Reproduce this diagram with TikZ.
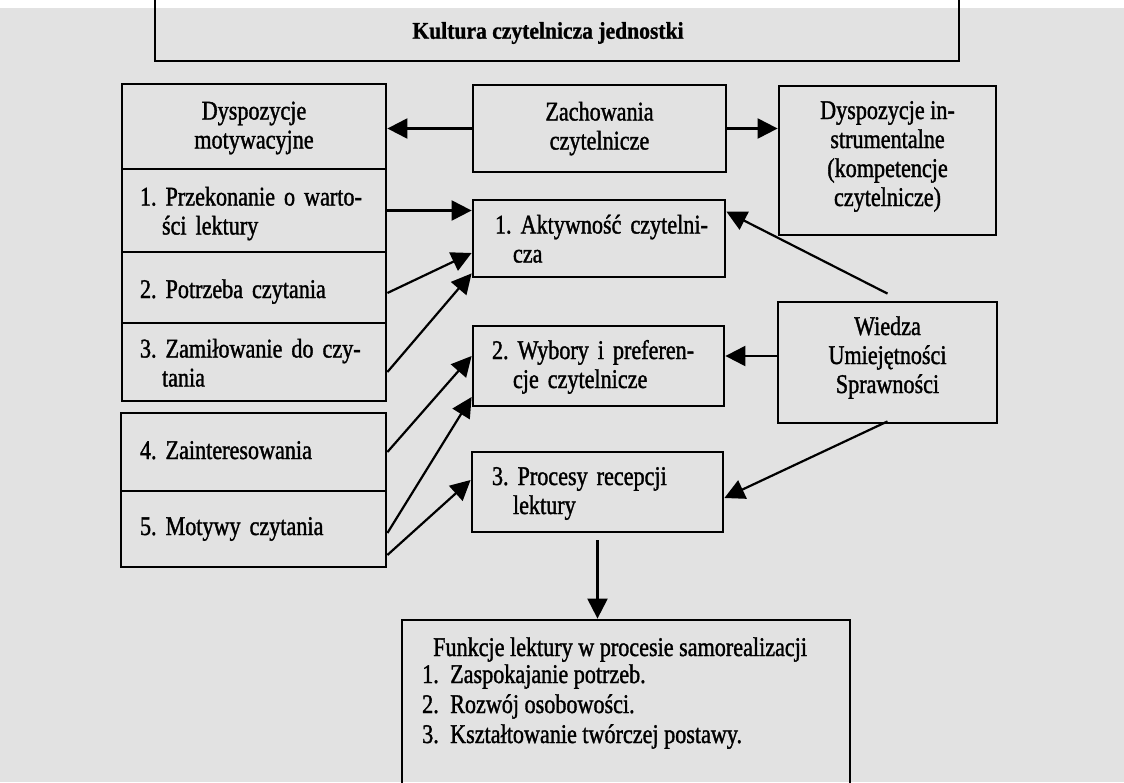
\documentclass[tikz,border=0pt]{standalone}
\usepackage{fontspec}
\setmainfont{Liberation Serif}[FakeBold=1.3, FakeStretch=0.82]
\newfontfamily\titlefont{Liberation Serif}[FakeBold=1.0, FakeStretch=0.9]
\usetikzlibrary{arrows.meta}
\definecolor{bg}{RGB}{226,226,226}
\newcommand\sTop[1]{\rule{0pt}{#1pt}}
\newcommand\sBot[1]{\rule[-#1pt]{0pt}{#1pt}}
\begin{document}
\frenchspacing
\begin{tikzpicture}[x=1pt,y=-1pt,
  font=\fontsize{27}{29}\selectfont,
  box/.style={draw, line width=2.8pt, inner sep=0pt, align=center},
  lbox/.style={draw, line width=2.8pt, inner ysep=0pt, align=left},
  arr/.style={-{Triangle[length=20pt,width=20pt]}, line width=2.2pt},
  txt/.style={inner sep=0pt, anchor=base west}]
\useasboundingbox (0,0) rectangle (1124,782);
\fill[bg] (0,0) rectangle (1124,782);
\fill[white] (0,0) rectangle (1124,8);
\clip (0,0) rectangle (1124,782);

% top box
\node[box, minimum width=804pt, minimum height=91pt] (kbox) at (557,15.5) {};
\node[inner sep=0pt, font=\titlefont\bfseries\fontsize{24}{26}\selectfont] (ktxt) at (548,33) {Kultura czytelnicza jednostki};

% left column
\node[box, minimum width=264pt, minimum height=85pt] (hdr) at (254,126.5)
  {\sTop{23}Dyspozycje\\motywacyjne\sBot{8}};
\node[lbox, minimum width=264pt, minimum height=83pt, inner xsep=18pt, text width=228pt] (it1) at (254,210.5)
  {\sTop{27}\mbox{1. Przekonanie o warto-}\\\hspace*{22pt}ści lektury\sBot{8}};
\node[lbox, minimum width=264pt, minimum height=71pt, inner xsep=18pt, text width=228pt] (it2) at (254,287.5)
  {\sTop{29}2. Potrzeba czytania\sBot{8}};
\node[lbox, minimum width=264pt, minimum height=78pt, inner xsep=18pt, text width=228pt] (it3) at (254,362)
  {\sTop{28}\mbox{3. Zamiłowanie do czy-}\\\hspace*{22pt}tania\sBot{8}};
\node[lbox, minimum width=265pt, minimum height=78pt, inner xsep=19pt, text width=227pt] (it4) at (253.5,452)
  {\sTop{22}4. Zainteresowania\sBot{8}};
\node[lbox, minimum width=265pt, minimum height=76pt, inner xsep=19pt, text width=227pt] (it5) at (253.5,529)
  {\sTop{20}5. Motywy czytania\sBot{8}};

% middle column
\node[box, minimum width=253pt, minimum height=87pt] (zach) at (599.5,128.5)
  {\sTop{21}Zachowania\\czytelnicze\sBot{8}};
\node[lbox, minimum width=252pt, minimum height=77pt, inner xsep=22pt, text width=208pt] (akt) at (599,238.5)
  {\sTop{27}\mbox{1. Aktywność czytelni-}\\\hspace*{18pt}cza\sBot{8}};
\node[lbox, minimum width=251pt, minimum height=80pt, inner xsep=19pt, text width=213pt] (wyb) at (598.5,366)
  {\sTop{23}\mbox{2. Wybory i preferen-}\\\hspace*{21pt}cje czytelnicze\sBot{8}};
\node[lbox, minimum width=251pt, minimum height=80pt, inner xsep=20pt, text width=211pt] (proc) at (597.5,492)
  {\sTop{23}\mbox{3. Procesy recepcji}\\\hspace*{21pt}lektury\sBot{8}};

% right column
\node[box, minimum width=217pt, minimum height=149pt] (dinst) at (887.5,160.5)
  {\sTop{20}Dyspozycje in-\\strumentalne\\(kompetencje\\czytelnicze)\sBot{16}};
\node[box, minimum width=219pt, minimum height=121pt] (wied) at (887.5,362.5)
  {\sTop{20}Wiedza\\Umiejętności\\Sprawności\sBot{17}};

% bottom box
\node[box, minimum width=448pt, minimum height=180pt] (funk) at (626,710) {};
\node[txt] (fh) at (433,656) {Funkcje lektury w procesie samorealizacji};
\node[txt] (f1) at (422,683) {\makebox[28pt][l]{1.}Zaspokajanie potrzeb.};
\node[txt] (f2) at (422,713) {\makebox[28pt][l]{2.}Rozwój osobowości.};
\node[txt] (f3) at (422,743) {\makebox[28pt][l]{3.}Kształtowanie twórczej postawy.};

% connectors
\draw[arr] (zach.west) -- (zach.west -| hdr.east);
\draw[arr] (zach.east) -- (zach.east -| dinst.west);
\draw[arr] (it1.east) -- (it1.east -| akt.west);
\draw[arr] ([yshift=-5.5pt]it2.east) -- ([yshift=-14.5pt]akt.west);
\draw[arr] ([yshift=-10pt]it3.east) -- ([yshift=5pt]akt.south west);
\draw[arr] (it4.east) -- ([yshift=10pt]wyb.west);
\draw[arr] ([yshift=-4pt]it5.east) -- ([yshift=-31pt]wyb.west);
\draw[arr] ([yshift=-26pt]it5.east) -- ([yshift=12pt]proc.west);
\draw[arr] ([yshift=7pt]wied.north) -- ([yshift=-13pt]akt.north east);
\draw[arr] ([yshift=6.5pt]wied.west) -- ([yshift=10pt]wyb.east);
\draw[arr] ([yshift=3pt]wied.south) -- ([yshift=-6pt]proc.east);
\draw[arr] ([yshift=-7pt]proc.south) -- (proc.south |- funk.north);
\end{tikzpicture}
\end{document}
